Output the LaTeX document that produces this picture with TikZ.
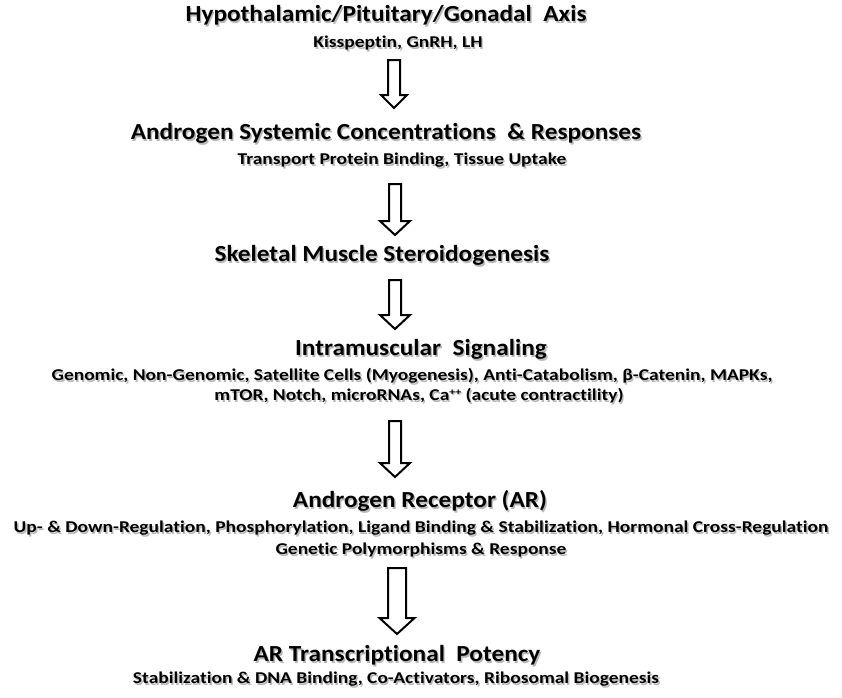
\documentclass[tikz,border=0pt]{standalone}
\usepackage{fontspec}
\setmainfont{Carlito}
\newfontfamily\headfont[FakeStretch=1.10,Ligatures=NoCommon,RawFeature=-liga]{Carlito}
\newfontfamily\itemfont[FakeStretch=1.18,Ligatures=NoCommon,RawFeature=-liga]{Carlito}
\usetikzlibrary{calc}

% text with a soft grey drop shadow
\newcommand\dropshadow[1]{\leavevmode\rlap{\kern1.4pt\raisebox{-1.6pt}{\color{black!28}#1}}#1}
% small raised charge sign
\newcommand\chargeup[1]{\raisebox{5.5pt}{\fontsize{10}{10}\selectfont#1}}
% hollow block arrow: from, to, half shaft, half head, head length
\newcommand\fatarrow[5]{%
  \draw[ArrowStyle] let \p1=(#1), \p2=(#2) in
    (\x1-#3pt,\y1) -- (\x1+#3pt,\y1) -- (\x1+#3pt,\y2+#5pt) -- (\x1+#4pt,\y2+#5pt)
    -- (\x1,\y2) -- (\x1-#4pt,\y2+#5pt) -- (\x1-#3pt,\y2+#5pt) -- cycle;}

\begin{document}
\begin{tikzpicture}[x=1pt,y=-1pt]
  \tikzstyle{HeadStyle}=[anchor=base, inner sep=0pt,
                         font=\headfont\bfseries\fontsize{23}{27}\selectfont]
  \tikzstyle{ItemStyle}=[anchor=base, inner sep=0pt,
                         font=\itemfont\bfseries\fontsize{16.5}{20}\selectfont]
  \tikzstyle{ArrowStyle}=[draw=black, line width=2pt, fill=white]
  \useasboundingbox (0,0) rectangle (842,697);
 % levels
 \node[HeadStyle] (axis)   at (386,21.5)  {\dropshadow{Hypothalamic/Pituitary/Gonadal\ \ Axis}};
 \node[ItemStyle] (axisI)  at (398,47.7)  {\dropshadow{Kisspeptin, GnRH, LH}};
 \node[HeadStyle] (conc)   at (386,139.5) {\dropshadow{Androgen\ Systemic Concentrations\ \ \& Responses}};
 \node[ItemStyle] (concI)  at (402,164.7) {\dropshadow{Transport Protein Binding, Tissue Uptake}};
 \node[HeadStyle] (ster)   at (382,261.5) {\dropshadow{Skeletal Muscle Steroidogenesis}};
 \node[HeadStyle] (sig)    at (421,355.5) {\dropshadow{Intramuscular\ \ Signaling}};
 \node[ItemStyle] (sigI)   at (412,380.7) {\dropshadow{Genomic, Non-Genomic, Satellite Cells (Myogenesis), Anti-Catabolism, β-Catenin, MAPKs,}};
 \node[ItemStyle] (sigII)  at (419,400.7) {\dropshadow{mTOR, Notch, microRNAs, Ca\chargeup{++} (acute contractility)}};
 \node[HeadStyle] (rec)    at (420,507.5) {\dropshadow{Androgen\ Receptor (AR)}};
 \node[ItemStyle] (recI)   at (421,532.7) {\dropshadow{Up- \& Down-Regulation, Phosphorylation, Ligand Binding \& Stabilization, Hormonal Cross-Regulation}};
 \node[ItemStyle] (recII)  at (421,554.7) {\dropshadow{Genetic Polymorphisms \& Response}};
 \node[HeadStyle] (pot)    at (397,661.5) {\dropshadow{AR Transcriptional\ \ Potency}};
 \node[ItemStyle] (potI)   at (396,683.7) {\dropshadow{Stabilization \& DNA Binding, Co-Activators, Ribosomal Biogenesis}};
 % arrow ends
 \coordinate (a1s) at (394,60);  \coordinate (a1e) at (394,108);
 \coordinate (a2s) at (395,184); \coordinate (a2e) at (395,235);
 \coordinate (a3s) at (395,280); \coordinate (a3e) at (395,329);
 \coordinate (a4s) at (395,421); \coordinate (a4e) at (395,477);
 \coordinate (a5s) at (397,568); \coordinate (a5e) at (397,634);
 \fatarrow{a1s}{a1e}{6}{13}{13}
 \fatarrow{a2s}{a2e}{6}{15}{14}
 \fatarrow{a3s}{a3e}{6}{15}{14}
 \fatarrow{a4s}{a4e}{6}{15}{14}
 \fatarrow{a5s}{a5e}{9}{17.5}{16}
\end{tikzpicture}
\end{document}
